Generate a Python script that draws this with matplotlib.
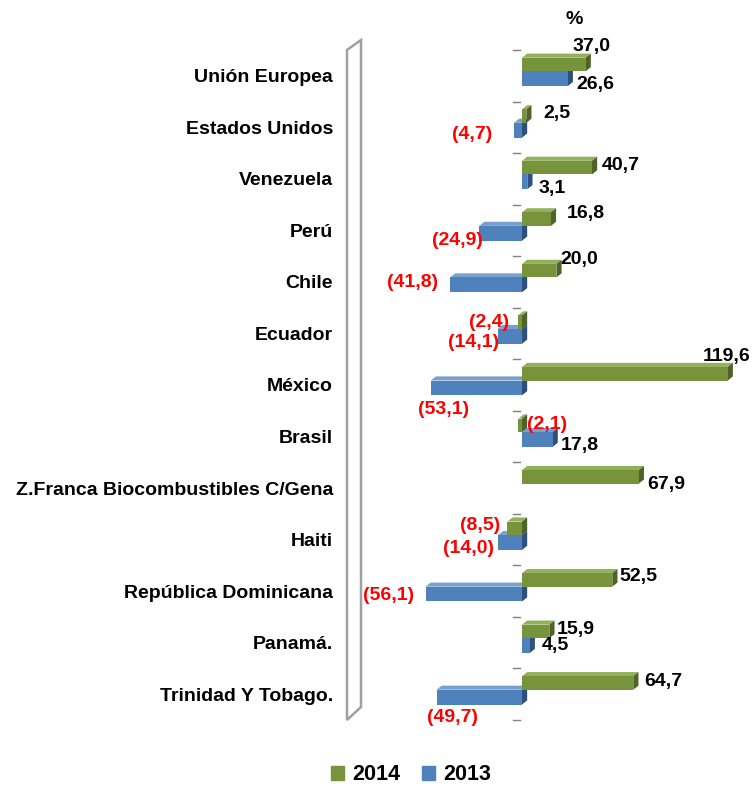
import numpy as np
import matplotlib.pyplot as plt
from matplotlib.patches import Polygon, Patch

plt.rcParams['font.family'] = ['Liberation Sans', 'DejaVu Sans']

# variación % de exportaciones por destino
paises = ['Unión Europea', 'Estados Unidos', 'Venezuela', 'Perú', 'Chile',
          'Ecuador', 'México', 'Brasil', 'Z.Franca Biocombustibles C/Gena',
          'Haiti', 'República Dominicana', 'Panamá.', 'Trinidad Y Tobago.']
v2014 = [37.0, 2.5, 40.7, 16.8, 20.0, -2.4, 119.6, -2.1, 67.9, -8.5, 52.5, 15.9, 64.7]
v2013 = [26.6, -4.7, 3.1, -24.9, -41.8, -14.1, -53.1, 17.8, np.nan, -14.0, -56.1, 4.5, -49.7]

# desplazamiento (px) de cada etiqueta respecto al extremo de la barra
off2014 = [(6, -20), (31, -5), (29, -4), (35, -8), (23, -13), (-29, -2), (-1, -19),
           (29, -3), (27, 6), (-27, -5), (26, -5), (26, -4), (30, -3)]
off2013 = [(28, 4), (-42, 2), (25, 5), (-22, 5), (-38, -4), (-24, 4), (13, 20),
           (27, 4), None, (-29, 4), (-37, -1), (26, -2), (16, 18)]

verde = ('#77933C', '#93B05A', '#4F6228')
azul = ('#4F81BD', '#7AA0D0', '#2F507C')

W, H = 752, 786
fig = plt.figure(figsize=(W / 100, H / 100), dpi=100)
ax = fig.add_axes([360 / W, 1 - 720 / H, 385 / W, 670 / H])
ax.set_xlim(-94.2, 129.65)
ax.set_ylim(12.5, -0.5)

dx, dy = 3.0, 0.08   # profundidad del efecto 3D
y = np.arange(len(paises))


def barras(vals, top, bot, colores, z):
    front, sup, lado = colores
    vals = np.array(vals, dtype=float)
    ok = ~np.isnan(vals)
    ax.barh((y + (top + bot) / 2)[ok], vals[ok], height=bot - top,
            color=front, zorder=z + 1)
    for yi, v in zip(y[ok], vals[ok]):
        lo, hi = min(0, v), max(0, v)
        y0, y1 = yi + top, yi + bot
        ax.add_patch(Polygon([(lo, y0), (hi, y0), (hi + dx, y0 - dy), (lo + dx, y0 - dy)],
                             fc=sup, ec='none', zorder=z))
        ax.add_patch(Polygon([(hi, y0), (hi + dx, y0 - dy), (hi + dx, y1 - dy), (hi, y1)],
                             fc=lado, ec='none', zorder=z))


def etiquetas(vals, offs, centro):
    for yi, v, off in zip(y, vals, offs):
        if off is None or np.isnan(v):
            continue
        txt = f'{abs(v):.1f}'.replace('.', ',')
        if v < 0:
            txt, col = f'({txt})', '#FF0000'
        else:
            col = 'black'
        ax.annotate(txt, (v, yi + centro), xytext=(off[0], -off[1] - 2),
                    textcoords='offset pixels', ha='center', va='center',
                    fontsize=14, fontweight='bold', color=col, zorder=10,
                    annotation_clip=False)


barras(v2013, -0.087, 0.20, azul, 2)
barras(v2014, -0.35, -0.087, verde, 4)
etiquetas(v2014, off2014, -0.2185)
etiquetas(v2013, off2013, 0.0565)

# marcas de separación entre categorías
for b in np.arange(-0.5, len(paises), 1.0):
    ax.plot([-5.2, -1.4], [b, b], color='#808080', lw=1, zorder=1, clip_on=False)

for s in ax.spines.values():
    s.set_visible(False)
ax.set_xticks([])
ax.set_yticks(y)
ax.set_yticklabels(paises, fontsize=14, fontweight='bold')
ax.tick_params(axis='y', length=0, pad=19.5)

# pared lateral
pared = [(347, 50), (361, 40), (361, 707), (347, 720)]
fig.add_artist(Polygon([(px / W, 1 - py / H) for px, py in pared], closed=True,
                       transform=fig.transFigure, fc='white', ec='#A0A0A0', lw=1.8))

fig.text(574 / W, 1 - 20 / H, '%', ha='center', va='center', fontsize=14, fontweight='bold')

fig.legend(handles=[Patch(color=verde[0], label='2014'), Patch(color=azul[0], label='2013')],
           loc='center', bbox_to_anchor=(411 / W, 1 - 775 / H), ncol=2, frameon=False,
           prop={'size': 15.5, 'weight': 'bold'}, handlelength=0.6, handleheight=0.6,
           handletextpad=0.4, columnspacing=1.0)

fig.savefig('out.png', dpi=100)
